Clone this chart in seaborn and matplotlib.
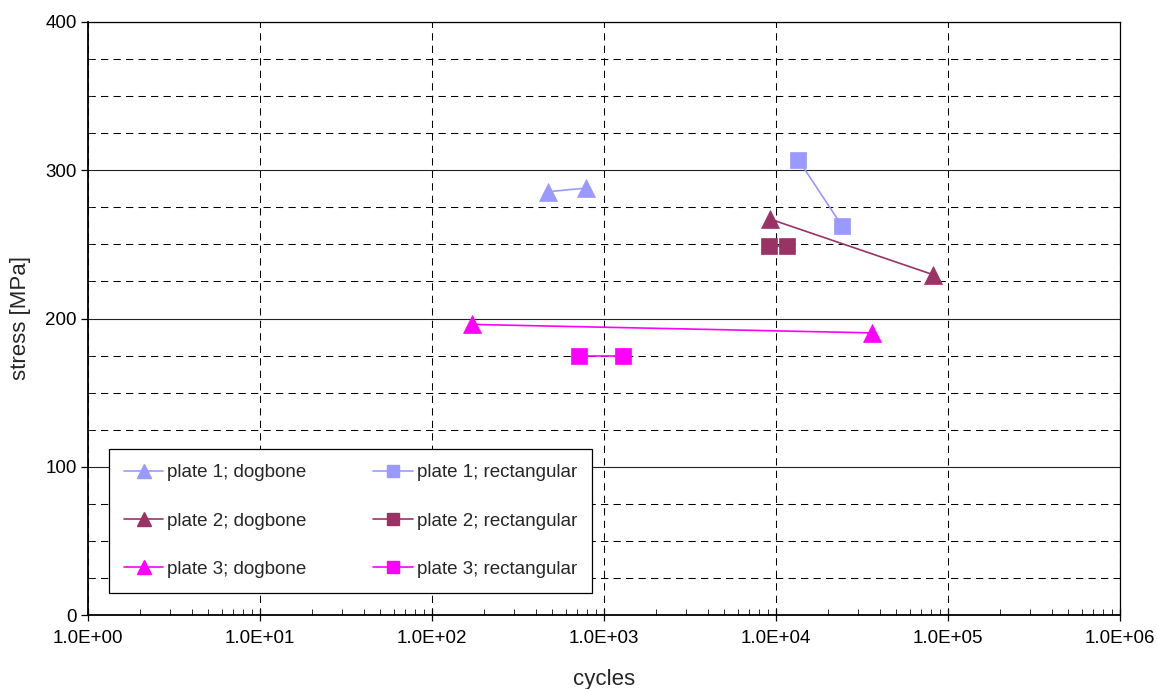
import numpy as np
import pandas as pd
import matplotlib
matplotlib.use("Agg")
import matplotlib.pyplot as plt
from matplotlib.ticker import FuncFormatter, MultipleLocator, LogLocator, NullFormatter
from matplotlib.lines import Line2D
import seaborn as sns

# Fatigue test results: cycles to failure vs. stress amplitude
p1_dog_cycles = [471, 791]
p1_dog_stress = [285.5, 288]
p1_rect_cycles = [13500, 24200]
p1_rect_stress = [307, 262.5]

p2_dog_cycles = [9260, 82200]
p2_dog_stress = [267, 229.5]
p2_rect_cycles = [9120, 11600]
p2_rect_stress = [249, 249]

p3_dog_cycles = [171, 36000]
p3_dog_stress = [196, 190.3]
p3_rect_cycles = [720, 1285]
p3_rect_stress = [175, 175]

series_labels = ["plate 1; dogbone", "plate 2; dogbone", "plate 3; dogbone",
                 "plate 1; rectangular", "plate 2; rectangular", "plate 3; rectangular"]
plate_colors = ["#9999FF", "#993366", "#FF00FF"]

x_tick_values = [1e0, 1e1, 1e2, 1e3, 1e4, 1e5, 1e6]
y_tick_values = [0, 100, 200, 300, 400]

sns.set_style("white")
plt.rcParams["font.family"] = ["Liberation Sans", "DejaVu Sans"]

fig = plt.figure(figsize=(11.57, 6.89), dpi=100)
ax = fig.add_axes([88 / 1157, 74 / 689, 1032 / 1157, 593 / 689])

series = [
    (p1_dog_cycles, p1_dog_stress, plate_colors[0], "^"),
    (p2_dog_cycles, p2_dog_stress, plate_colors[1], "^"),
    (p3_dog_cycles, p3_dog_stress, plate_colors[2], "^"),
    (p1_rect_cycles, p1_rect_stress, plate_colors[0], "s"),
    (p2_rect_cycles, p2_rect_stress, plate_colors[1], "s"),
    (p3_rect_cycles, p3_rect_stress, plate_colors[2], "s"),
]

handles = []
for (xs, ys, col, mk), lab in zip(series, series_labels):
    df = pd.DataFrame({"cycles": xs, "stress": ys})
    ms = 12.5 if mk == "^" else 11.5
    sns.lineplot(data=df, x="cycles", y="stress", ax=ax, color=col, marker=mk,
                 markersize=ms, markeredgecolor=col, markeredgewidth=0.5,
                 linewidth=1.2, sort=False, estimator=None, zorder=5)
    handles.append(Line2D([], [], color=col, marker=mk, markersize=ms - 2.5,
                          markeredgecolor=col, linewidth=1.2))

ax.set_xscale("log")
ax.set_xlim(1, 1e6)
ax.set_ylim(0, 400)
ax.set_xticks(x_tick_values)
ax.xaxis.set_major_formatter(FuncFormatter(lambda v, p: f"{v:.1E}"))
ax.xaxis.set_minor_locator(LogLocator(base=10, subs=np.arange(2, 10), numticks=20))
ax.xaxis.set_minor_formatter(NullFormatter())
ax.set_yticks(y_tick_values)
ax.yaxis.set_minor_locator(MultipleLocator(25))

# Gridlines: dashed decades, solid major stress lines, dashed minor stress lines
ax.grid(False)
ax.xaxis.grid(True, which="major", color="black", linestyle=(0, (7, 5)), linewidth=0.75)
ax.yaxis.grid(True, which="major", color="#222222", linestyle="-", linewidth=0.8)
ax.yaxis.grid(True, which="minor", color="black", linestyle=(0, (7, 5)), linewidth=0.75)
ax.set_axisbelow(True)

for s in ax.spines.values():
    s.set_color("black")
    s.set_linewidth(0.9)
ax.spines["left"].set_linewidth(1.3)
ax.spines["bottom"].set_linewidth(1.3)

ax.tick_params(axis="x", which="major", direction="inout", length=9, width=0.9,
               labelsize=13.5, pad=6, colors="black", bottom=True)
ax.tick_params(axis="x", which="minor", direction="in", length=4, width=0.7, bottom=True)
ax.tick_params(axis="y", which="major", direction="out", length=5, width=0.9,
               labelsize=13.5, pad=3, colors="black", left=True)
ax.tick_params(axis="y", which="minor", direction="in", length=3, width=0.7, left=True)

ax.set_xlabel("cycles", fontsize=16, labelpad=16)
ax.set_ylabel("stress [MPa]", fontsize=16, labelpad=10)

leg = ax.legend(handles, series_labels, ncol=2, loc="lower left",
                bbox_to_anchor=(0.0203, 0.037, 0.468, 0.243), mode="expand",
                borderaxespad=0, fontsize=13.5, frameon=True, fancybox=False,
                framealpha=1, edgecolor="black", handlelength=2.1,
                handletextpad=0.2, labelspacing=1.67, borderpad=0.8,
                columnspacing=2.0)
leg.get_frame().set_linewidth(0.9)
leg.set_zorder(10)

fig.savefig("out.png", dpi=100, facecolor="white")
